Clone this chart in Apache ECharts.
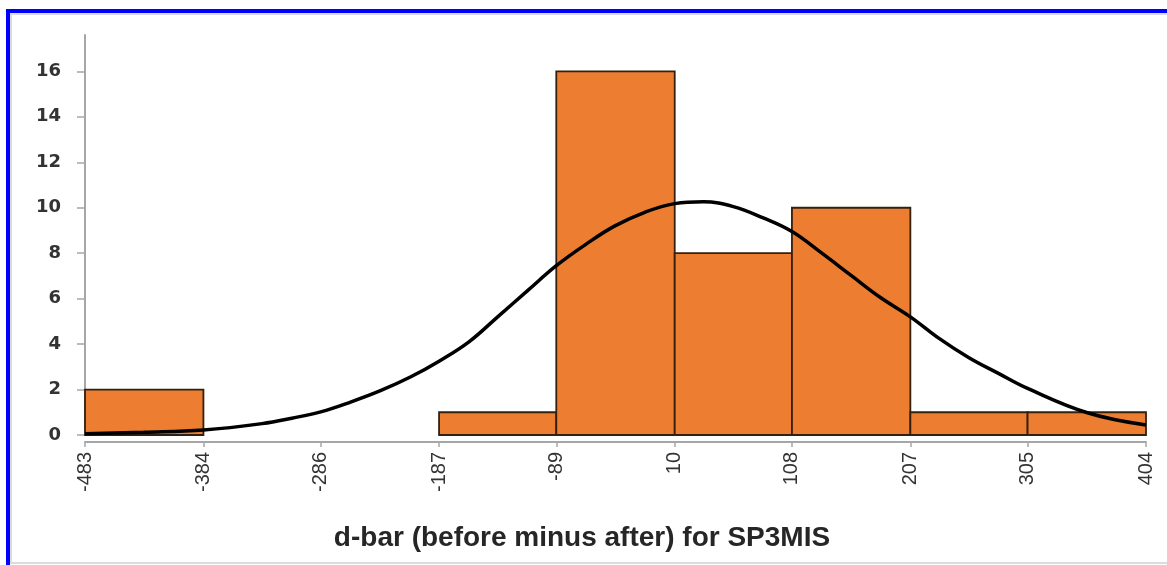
<!DOCTYPE html>
<html>
<head>
<meta charset="utf-8">
<script src="https://cdn.jsdelivr.net/npm/echarts@6/dist/echarts.min.js"></script>
<style>html,body{margin:0;padding:0;background:#fff;}#c{width:1167px;height:565px;}</style>
</head>
<body>
<div id="c"></div>
<script>
// Bin edges (x tick labels) and histogram counts
const binEdges = [-483, -384, -286, -187, -89, 10, 108, 207, 305, 404];
const binCounts = [2, 0, 0, 1, 16, 8, 10, 1, 1];
// Y tick labels
const yTicks = [0, 2, 4, 6, 8, 10, 12, 14, 16];
// Fitted normal curve
const curveX = [-483, -434, -384, -335, -310, -286, -261, -236, -211, -187, -162, -138, -113, -89, -64, -40, -15, 10, 34, 59, 84, 108, 133, 158, 182, 207, 231, 256, 281, 305, 355, 404];
const curveY = [0.05, 0.12, 0.22, 0.5, 0.74, 1.02, 1.45, 1.95, 2.55, 3.25, 4.1, 5.2, 6.35, 7.45, 8.4, 9.2, 9.8, 10.18, 10.26, 10.05, 9.55, 8.95, 8.0, 7.0, 6.05, 5.2, 4.25, 3.4, 2.7, 2.05, 0.98, 0.44];
const xTitle = 'd-bar (before minus after) for SP3MIS';

const barData = [];
binCounts.forEach((c, i) => { if (c > 0) barData.push([binEdges[i], binEdges[i + 1], c]); });
const lineData = curveX.map((x, i) => [x, curveY[i]]);

const chart = echarts.init(document.getElementById('c'), null, {renderer: 'canvas'});
const axisColor = '#a6a6a6';
chart.setOption({
  animation: false,
  backgroundColor: '#ffffff',
  grid: {left: 85, right: 21, top: 35, bottom: 130, containLabel: false},
  xAxis: {
    type: 'value', min: -483, max: 404, offset: 7,
    axisLine: {show: true, onZero: false, lineStyle: {color: axisColor, width: 2}},
    axisTick: {show: true, length: 5, customValues: binEdges, lineStyle: {color: axisColor, width: 1.5}},
    axisLabel: {customValues: binEdges, rotate: 90, margin: 10, color: '#333333',
      fontFamily: 'Liberation Sans', fontSize: 20},
    splitLine: {show: false}
  },
  yAxis: {
    type: 'value', min: 0, max: 17.6,
    axisLine: {show: true, onZero: false, lineStyle: {color: axisColor, width: 2}},
    axisTick: {show: true, length: 8, customValues: yTicks, lineStyle: {color: axisColor, width: 1.5}},
    axisLabel: {customValues: yTicks, margin: 24, color: '#333333',
      fontFamily: 'DejaVu Sans', fontWeight: 'bold', fontSize: 18},
    splitLine: {show: false}
  },
  series: [
    {
      type: 'custom', data: barData, encode: {x: [0, 1], y: 2}, z: 2,
      renderItem: function (params, api) {
        const p0 = api.coord([api.value(0), api.value(2)]);
        const p1 = api.coord([api.value(1), 0]);
        return {type: 'rect', shape: {x: p0[0], y: p0[1], width: p1[0] - p0[0], height: p1[1] - p0[1]},
          style: {fill: '#ED7D31', stroke: '#33200e', lineWidth: 1.8}};
      }
    },
    {
      type: 'line', data: lineData, smooth: 0.4, showSymbol: false, z: 5,
      lineStyle: {color: '#000000', width: 3.5}
    }
  ],
  graphic: [
    {type: 'rect', shape: {x: 8, y: 11, width: 1400, height: 700}, style: {fill: 'none', stroke: '#0000ff', lineWidth: 4}, z: 100},
    {type: 'rect', shape: {x: 11, y: 14, width: 1400, height: 549}, style: {fill: 'none', stroke: '#cfcfcf', lineWidth: 1.5}, z: 99},
    {type: 'text', x: 582, y: 538, z: 50, style: {text: xTitle, fill: '#262626', font: 'bold 28px "Liberation Sans"', textAlign: 'center', textVerticalAlign: 'middle'}}
  ]
});
</script>
</body>
</html>
